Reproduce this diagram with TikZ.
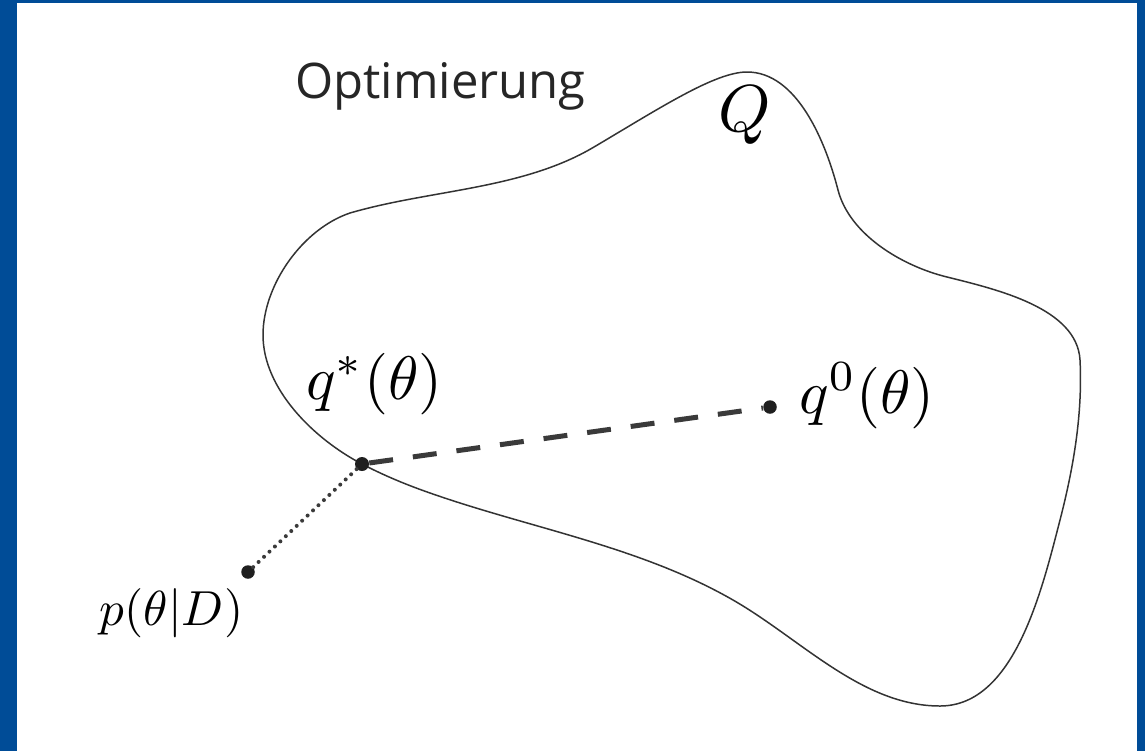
\documentclass[tikz,border=0pt]{standalone}
\usepackage{fontspec}
\newfontfamily\titlefont{Open Sans}
\usetikzlibrary{positioning}
\definecolor{frameblue}{HTML}{004C97}
\definecolor{curvegray}{HTML}{333333}
\definecolor{dashgray}{HTML}{3A3A3A}

\begin{document}
\begin{tikzpicture}[x=0.02cm, y=-0.02cm,
    blobline/.style={draw=curvegray, line width=0.85pt},
    pointdot/.style={circle, fill=black!88, inner sep=0pt, minimum size=0.28cm},
    biglabel/.style={inner sep=0pt, anchor=base west, scale=3.5},
    smalllabel/.style={inner sep=0pt, anchor=base west, scale=2.8},
    dashline/.style={draw=dashgray, line width=0.1cm, dash pattern=on 0.48cm off 0.4cm},
    dotline/.style={draw=dashgray, line width=0.08cm, line cap=round, dash pattern=on 0pt off 0.15cm}]
  % frame
  \fill[frameblue] (0,0) rectangle (1145,751);
  \fill[white] (17,3) rectangle (1137,751);
  \useasboundingbox (0,0) rectangle (1145,751);

  % the set Q
  \draw[blobline] (747,72)
    .. controls (797,72) and (825.5,141.5) .. (838,190)
    .. controls (849.5,234.6) and (902,266) .. (947,277)
    .. controls (997,289.5) and (1077,308) .. (1080,360)
    .. controls (1082.7,414) and (1073.5,467.6) .. (1060,520)
    .. controls (1041.5,591.8) and (1014,706) .. (940,706)
    .. controls (862,706) and (800.9,639) .. (733,600)
    .. controls (640,546.5) and (530.6,528.3) .. (430,493)
    .. controls (406.5,484.8) and (384,475.5) .. (362,464)
    .. controls (314,439) and (263,389) .. (263,335)
    .. controls (263,285) and (302.5,229) .. (350,213)
    .. controls (430.6,189.5) and (521.8,189.8) .. (594,147)
    .. controls (660,108) and (715,72) .. cycle;

  \node[anchor=base west, inner sep=0pt, text=black!85,
    font=\titlefont\fontsize{27.9}{32}\selectfont] (title) at (295,98) {Optimierung};
  \node[biglabel, scale=1.08] (setname) at (717,131) {$Q$};

  % points
  \node[pointdot] (qstar) at (362,464) {};
  \node[pointdot, minimum size=0.27cm] (qzero) at (770,407) {};
  \node[pointdot, minimum size=0.27cm] (ptrue) at (248,572) {};

  \node[biglabel] (qstarlabel) at (305,399) {$q^*(\theta)$};
  \node[biglabel] (qzerolabel) at (798,413) {$q^0(\theta)$};
  \node[smalllabel] (ptruelabel) at (99,625) {$p(\theta|D)$};

  \draw[dashline] (qstar) -- (qzero);
  \draw[dotline] (ptrue) -- (qstar);
\end{tikzpicture}
\end{document}
